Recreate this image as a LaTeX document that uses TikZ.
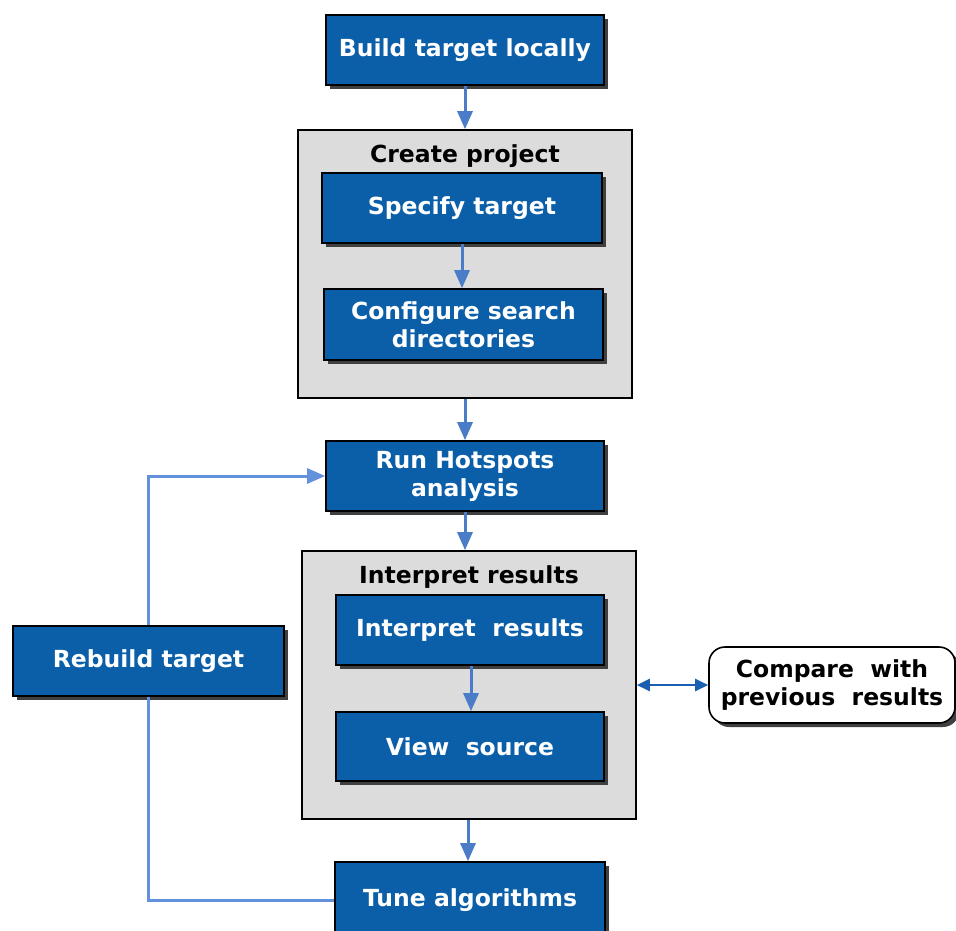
\documentclass[tikz,border=0pt]{standalone}
\usepackage{fontspec}
\setmainfont{DejaVu Sans}
\usetikzlibrary{arrows.meta,shadows}
\definecolor{boxblue}{RGB}{10,95,168}
\definecolor{arrblue}{RGB}{74,124,200}
\definecolor{lineblue}{RGB}{100,145,220}
\definecolor{dblblue}{RGB}{26,95,176}
\definecolor{contgray}{RGB}{220,220,220}
\definecolor{shadowgray}{RGB}{64,64,64}
\tikzset{
  bluebox/.style={draw=black, line width=1.6pt, fill=boxblue, text=white,
    font=\fontsize{23.5}{28}\selectfont\bfseries, align=center, inner sep=0pt,
    drop shadow={shadow xshift=4pt, shadow yshift=-4pt, fill=shadowgray, opacity=1}},
  container/.style={draw=black, line width=1.6pt, fill=contgray, inner sep=0pt},
  title/.style={font=\fontsize{23.5}{28}\selectfont\bfseries, text=black, inner sep=0pt},
  conn/.style={draw=arrblue, line width=3pt, -{Triangle[length=18pt,width=15pt]}},
  fb/.style={draw=lineblue, line width=3pt},
  cmpbox/.style={draw=black, line width=1.6pt, fill=white, rounded corners=16pt,
    font=\fontsize{23.5}{28}\selectfont\bfseries, align=center, inner sep=0pt,
    drop shadow={shadow xshift=4pt, shadow yshift=-4pt, fill=shadowgray, opacity=1}},
}
\begin{document}
\begin{tikzpicture}[x=1pt,y=-1pt]
\useasboundingbox (0,0) rectangle (956,930);
% containers
\node[container, minimum width=334pt, minimum height=268pt] (cp) at (465,264) {};
\node[title] (cpt) at (465,156) {Create project};
\node[container, minimum width=334pt, minimum height=268pt] (ir) at (469,685) {};
\node[title] (irt) at (469,577) {Interpret results};
% boxes
\node[bluebox, minimum width=278pt, minimum height=70pt] (build) at (465,50) {Build target locally};
\node[bluebox, minimum width=280pt, minimum height=70pt] (spec) at (462,208) {Specify target};
\node[bluebox, minimum width=279pt, minimum height=71pt] (conf) at (463.5,324.5) {Configure search\\directories};
\node[bluebox, minimum width=278pt, minimum height=70pt] (run) at (465,476) {Run Hotspots\\analysis};
\node[bluebox, minimum width=268pt, minimum height=70pt] (irin) at (470,630) {Interpret\ \ results};
\node[bluebox, minimum width=268pt, minimum height=69pt] (view) at (470,746.5) {View\ \ source};
\node[bluebox, minimum width=270pt, minimum height=76pt] (tune) at (470,900) {Tune algorithms};
\node[bluebox, minimum width=271pt, minimum height=70pt] (rebuild) at (148.5,661) {Rebuild target};
\node[cmpbox, minimum width=246pt, minimum height=76pt] (cmp) at (832,685) {Compare\ \ with\\previous\ \ results};
% connectors
\draw[conn] (build.south) -- (build.south |- cp.north);
\draw[conn] (spec.south) -- (spec.south |- conf.north);
\draw[conn] (cp.south) -- (cp.south |- run.north);
\draw[conn] (run.south) -- (run.south |- ir.north);
\draw[conn] ([xshift=1pt]irin.south) -- ([xshift=1pt]irin.south |- view.north);
\draw[conn] ([xshift=-1pt]ir.south) -- ([xshift=-1pt]ir.south |- tune.north);
\draw[fb] (tune.west) -| (rebuild.south);
\draw[fb, -{Triangle[length=18pt,width=15pt]}] (rebuild.north) |- (run.west);
\draw[draw=dblblue, line width=2.4pt, {Triangle[length=13pt,width=12pt]}-{Triangle[length=13pt,width=12pt]}] (ir.east) -- (cmp.west);
\end{tikzpicture}
\end{document}
